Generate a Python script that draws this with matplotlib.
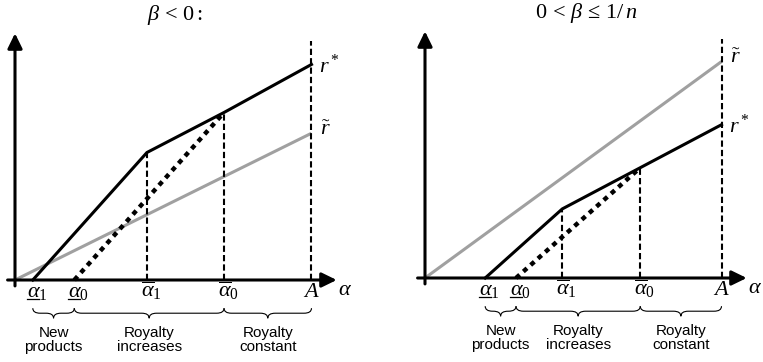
import numpy as np
import matplotlib
matplotlib.use("Agg")
import matplotlib.pyplot as plt
from matplotlib.path import Path
from matplotlib.patches import PathPatch

plt.rcParams['mathtext.fontset'] = 'custom'
plt.rcParams['mathtext.rm'] = 'Liberation Serif'
plt.rcParams['mathtext.it'] = 'Liberation Serif:italic'
plt.rcParams['font.family'] = ['Liberation Serif', 'DejaVu Serif']

# Положення точок на осі alpha (A = 10)
titles = [r'$\beta\, <\, 0\,$:', r'$0\, <\, \beta\, \leq\, 1/\,n$']
x_lo1 = [0.6, 2.03]     # alpha_1 (нижнє)
x_lo0 = [2.0, 3.07]     # alpha_0 (нижнє)
x_hi1 = [4.45, 4.63]    # alpha_1 (верхнє)
x_hi0 = [7.05, 7.26]    # alpha_0 (верхнє)
x_A = [10.0, 10.0]

# Значення r* у точках alpha_1 верх, alpha_0 верх, A
r_star_hi1 = [4.3, 2.33]
r_star_hi0 = [5.65, 3.72]
r_star_A = [7.27, 5.17]
# r~ у точці A (з нуля)
r_tilde_A = [4.95, 7.3]

regions = ["New\nproducts", "Royalty\nincreases", "Royalty\nconstant"]

# Розміщення панелей (пікселі)
panel_px = [(0, 381, 15, 82), (383, 380, 42, 84)]  # left, width, origin x, origin y (from bottom)
scale = 29.65  # пікселів на одиницю
W, H = 763, 362

fig = plt.figure(figsize=(7.63, 3.62), dpi=100)


def brace(ax, x0, x1, y, h):
    xm = (x0 + x1) / 2
    r = min(0.25, (x1 - x0) / 4)
    ym = y - h / 2
    verts = [(x0, y), (x0, ym), (x0 + r, ym),
             (xm - r, ym), (xm, ym), (xm, y - h),
             (xm, ym), (xm + r, ym),
             (x1 - r, ym), (x1, ym), (x1, y)]
    codes = [Path.MOVETO, Path.CURVE3, Path.CURVE3,
             Path.LINETO, Path.CURVE3, Path.CURVE3,
             Path.CURVE3, Path.CURVE3,
             Path.LINETO, Path.CURVE3, Path.CURVE3]
    ax.add_patch(PathPatch(Path(verts, codes), fill=False, lw=0.8,
                           edgecolor='k', clip_on=False))


for i in range(2):
    left, width, ox, oy = panel_px[i]
    ax = fig.add_axes([left / W, 0, width / W, 1])
    ax.set_xlim(-ox / scale, (width - ox) / scale)
    ax.set_ylim(-oy / scale, (H - oy) / scale)
    ax.axis('off')

    # Осі зі стрілками
    arr = dict(arrowstyle='-|>,head_length=0.45,head_width=0.22', lw=2.2,
               color='k', mutation_scale=20, shrinkA=0, shrinkB=0)
    ax.annotate('', xy=(10.85, 0), xytext=(-0.25, 0), arrowprops=arr)
    ax.annotate('', xy=(0, 8.32), xytext=(0, -0.2), arrowprops=arr)

    # r~
    ax.plot([0, x_A[i]], [0, r_tilde_A[i]], color='#a0a0a0', lw=2.2,
            solid_capstyle='butt')
    # r*
    ax.plot([x_lo1[i], x_hi1[i], x_hi0[i], x_A[i]],
            [0, r_star_hi1[i], r_star_hi0[i], r_star_A[i]],
            color='k', lw=2.2, solid_joinstyle='miter')
    # пунктир
    ax.plot([x_lo0[i], x_hi0[i]], [0, r_star_hi0[i]], color='k', lw=3.2,
            linestyle=(0, (1.1, 1.1)), dash_capstyle='butt')

    # вертикальні штрихові лінії
    dash = (0, (3, 1.5))
    ax.plot([x_hi1[i]] * 2, [0, r_star_hi1[i]], color='k', lw=1.5, linestyle=dash)
    ax.plot([x_hi0[i]] * 2, [0, r_star_hi0[i]], color='k', lw=1.5, linestyle=dash)
    ax.plot([x_A[i]] * 2, [0, 8.05], color='k', lw=1.5, linestyle=dash)

    # Підписи кривих
    ax.text(x_A[i] + 0.25, r_star_A[i] - 0.05, r'$r^*$', fontsize=16,
            ha='left', va='center')
    ax.text(x_A[i] + 0.3, r_tilde_A[i] + 0.1, r'$\tilde{r}$', fontsize=16,
            ha='left', va='center')

    # Підписи на осі
    yb = -0.57
    aw = 0.2
    for xv, sub in [(x_lo1[i], '1'), (x_lo0[i], '0')]:
        ax.text(xv - aw, yb, r'$\alpha_{%s}$' % sub, fontsize=16,
                ha='left', va='baseline')
        ax.plot([xv - aw, xv + aw], [-0.63, -0.63], color='k', lw=0.9,
                clip_on=False)
    for xv, sub in [(x_hi1[i], '1'), (x_hi0[i], '0')]:
        ax.text(xv - aw, yb, r'$\overline{\alpha}_{%s}$' % sub, fontsize=16,
                ha='left', va='baseline')
    ax.text(x_A[i], yb, r'$A$', fontsize=16, ha='center', va='baseline')
    ax.text(10.88, -0.5, r'$\alpha$', fontsize=16, ha='left', va='baseline')

    # Фігурні дужки та підписи областей
    bounds = [x_lo1[i], x_lo0[i], x_hi0[i], x_A[i]]
    for k in range(3):
        brace(ax, bounds[k], bounds[k + 1], -0.95, 0.34)
        ax.text((bounds[k] + bounds[k + 1]) / 2, -2.02, regions[k],
                fontsize=11, family='Liberation Sans', ha='center',
                va='center', linespacing=1.05)

    ax.text(5.4 if i == 0 else 5.45, 8.95, titles[i], fontsize=16,
            ha='center', va='center')

fig.savefig('out.png', dpi=100)
